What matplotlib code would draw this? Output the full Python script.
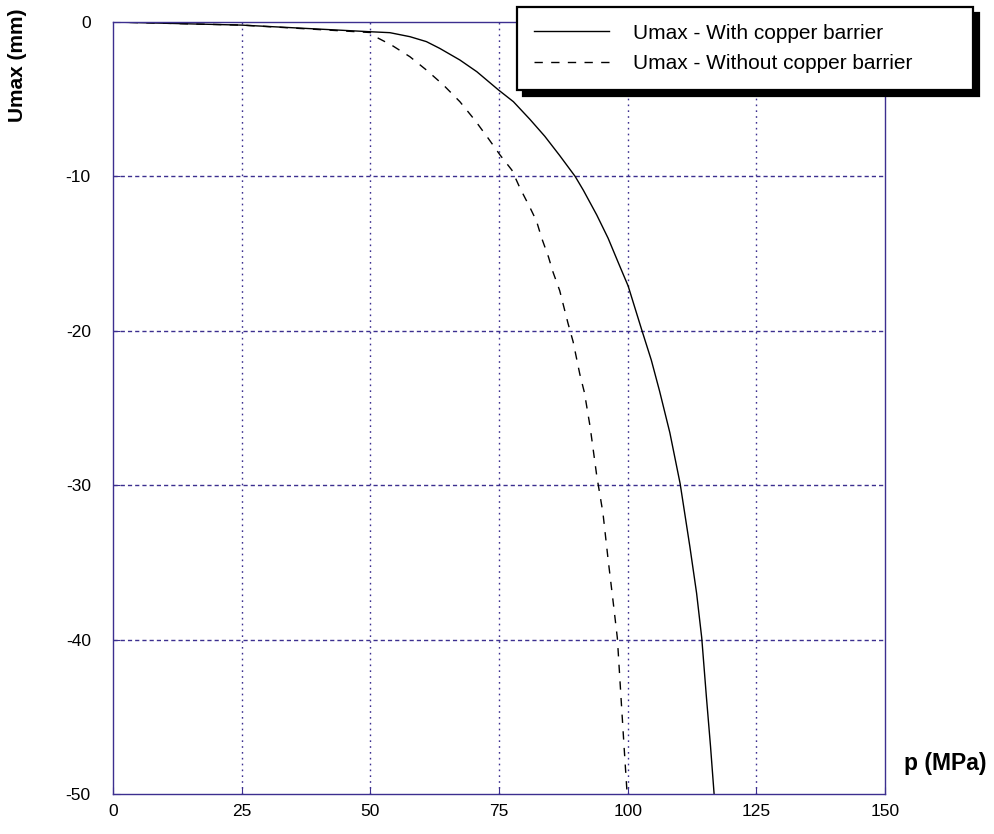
import numpy as np
import matplotlib.pyplot as plt

plt.rcParams['font.family'] = ['Liberation Sans', 'DejaVu Sans']
plt.rcParams['axes.unicode_minus'] = False

# pressure (MPa) vs max displacement (mm)
p_with = [0, 25, 50, 53.8, 57.7, 60.9, 63.5, 67.4, 70.7, 74.9, 77.8, 81.0,
          83.9, 86.8, 89.8, 91.4, 94, 96.2, 98.2, 100.1, 102.7, 104.6, 106.2,
          108.2, 110.2, 112.1, 113.4, 114.4, 115.3, 116.1, 116.8]
u_with = [0, -0.2, -0.63, -0.69, -0.95, -1.27, -1.71, -2.46, -3.22, -4.4,
          -5.16, -6.3, -7.4, -8.65, -10.0, -10.9, -12.5, -14, -15.6, -17.1,
          -19.9, -21.9, -23.9, -26.6, -29.9, -34, -37, -39.9, -43.7, -46.9, -50]

p_without = [0, 25, 50, 51.2, 54.1, 57.7, 60.9, 64.2, 67.4, 70.3, 72.9, 75.2,
             77.5, 79.1, 81, 82.3, 83.3, 84.6, 85.5, 86.8, 88.4, 89.4, 90.7,
             91.6, 92.7, 94, 95.2, 96.2, 97.2, 98, 98.7, 99.3, 99.9]
u_without = [0, -0.2, -0.68, -0.99, -1.49, -2.25, -3.11, -4.08, -5.16, -6.35,
             -7.53, -8.61, -9.59, -10.77, -12, -12.9, -14, -15.2, -16.2, -17.4,
             -19.5, -20.7, -22.8, -24, -26.2, -29.4, -31.8, -34.8, -37.6, -39.9,
             -43.7, -46.9, -50]

xticks = [0, 25, 50, 75, 100, 125, 150]
yticks = [0, -10, -20, -30, -40, -50]

navy = '#3c2f8f'

fig = plt.figure(figsize=(9.94, 8.34), dpi=100)
ax = fig.add_axes([0.1137, 0.048, 0.7766, 0.9256])

l1, = ax.plot(p_with, u_with, color='black', lw=1.0)
l2, = ax.plot(p_without, u_without, color='black', lw=1.0, linestyle=(0, (6, 6)))

ax.set_xlim(0, 150)
ax.set_ylim(-50, 0)
ax.set_xticks(xticks)
ax.set_yticks(yticks)

for x in xticks[1:-1]:
    ax.axvline(x, color=navy, lw=1.0, linestyle=(0, (1.2, 3)), zorder=1)
for y in yticks[1:-1]:
    ax.axhline(y, color=navy, lw=1.0, linestyle=(0, (3, 2.2)), zorder=1)

for s in ax.spines.values():
    s.set_color(navy)
    s.set_linewidth(1.0)
ax.tick_params(axis='both', direction='in', length=5, color=navy, labelsize=12.5)
ax.tick_params(axis='x', pad=7)
ax.tick_params(axis='y', pad=16)

fig.text(0.018, 0.922, 'Umax (mm)', rotation=90, ha='center', va='center',
         fontsize=15, fontweight='bold')
fig.text(0.951, 0.085, 'p (MPa)', ha='center', va='center',
         fontsize=16.5, fontweight='bold')

leg = fig.legend([l1, l2], ['Umax - With copper barrier', 'Umax - Without copper barrier'],
                 loc='upper left', bbox_to_anchor=(0.520, 0.8945, 0.459, 0.097),
                 mode='expand', borderaxespad=0, fontsize=15, handlelength=3.6,
                 handletextpad=1.15, borderpad=0.8, labelspacing=0.55,
                 fancybox=False, framealpha=1, edgecolor='black',
                 shadow={'ox': 4.5, 'oy': -4.5, 'color': 'black', 'alpha': 1})
leg.get_frame().set_linewidth(1.6)

fig.savefig('out.png', dpi=100)
